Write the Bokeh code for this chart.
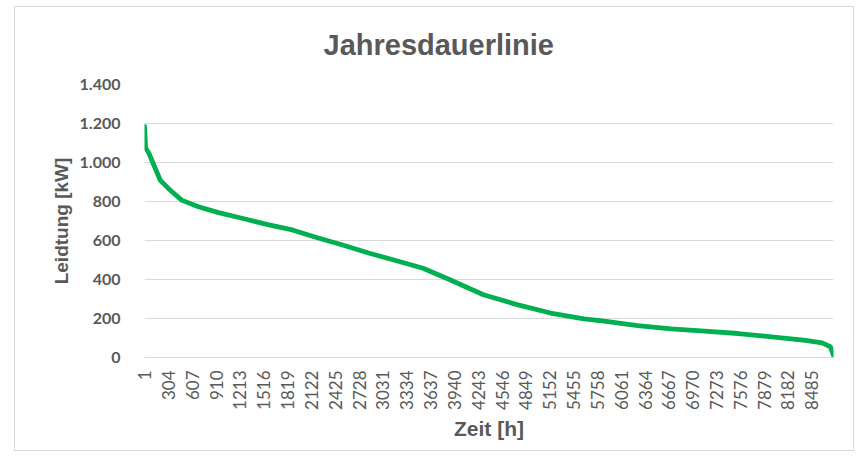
from bokeh.plotting import figure
from bokeh.models import FixedTicker, Range1d
from bokeh.embed import file_html
from bokeh.resources import INLINE

# Data (hour of year, load in kW)
hours = [1, 15, 60, 111, 200, 303, 473, 686, 942, 1240, 1582, 1880, 2178, 2519,
         2860, 3159, 3542, 3884, 4309, 4736, 5162, 5588, 5844, 6270, 6697, 7123,
         7549, 7976, 8402, 8615, 8721, 8760]
load_kw = [1185, 1075, 1045, 995, 910, 867, 807, 773, 743, 714, 680, 654, 617, 577,
           535, 501, 458, 399, 322, 271, 228, 198, 186, 164, 147, 135,
           123, 106, 88, 75, 55, 10]

x_tick_hours = [1, 304, 607, 910, 1213, 1516, 1819, 2122, 2425, 2728, 3031, 3334,
                3637, 3940, 4243, 4546, 4849, 5152, 5455, 5758, 6061, 6364, 6667,
                6970, 7273, 7576, 7879, 8182, 8485]
y_ticks = [0, 200, 400, 600, 800, 1000, 1200, 1400]
y_tick_labels = ["0", "200", "400", "600", "800", "1.000", "1.200", "1.400"]

title_text = "Jahresdauerlinie"
x_label = "Zeit [h]"
y_label = "Leidtung [kW]"

grey = "#595959"

p = figure(width=840, height=445, output_backend="svg", toolbar_location=None,
           x_range=Range1d(0.5, 8760.5), y_range=Range1d(0, 1400),
           title=title_text)
p.margin = (6, 0, 0, 14)
p.styles = {"border": "1px solid #d9d9d9", "box-sizing": "border-box"}

p.min_border_left = 129
p.min_border_right = 22
p.min_border_top = 77
p.min_border_bottom = 95
p.outline_line_color = None
p.background_fill_color = "white"
p.border_fill_color = "white"

p.title.align = "left"
p.title.offset = 179
p.title.vertical_align = "top"
p.title.text_font = "Liberation Sans"
p.title.text_font_size = "29px"
p.title.text_font_style = "bold"
p.title.text_color = grey
p.title.standoff = 43

p.line(hours, load_kw, line_color="#00b050", line_width=4.8, line_join="round", line_cap="round")

# y axis
p.yaxis.ticker = FixedTicker(ticks=y_ticks)
p.yaxis.major_label_overrides = {t: l for t, l in zip(y_ticks, y_tick_labels)}
p.yaxis.major_label_text_font = "Lato"
p.yaxis.major_label_text_font_style = "bold"
p.yaxis.major_label_text_font_size = "16px"
p.yaxis.major_label_text_color = grey
p.yaxis.major_label_standoff = 18
p.yaxis.axis_line_color = None
p.yaxis.major_tick_line_color = None
p.yaxis.minor_tick_line_color = None
p.yaxis.axis_label = y_label
p.yaxis.axis_label_text_font = "Liberation Sans"
p.yaxis.axis_label_text_font_style = "bold"
p.yaxis.axis_label_text_font_size = "19px"
p.yaxis.axis_label_text_color = grey
p.yaxis.axis_label_standoff = 5

# x axis
p.xaxis.ticker = FixedTicker(ticks=x_tick_hours)
p.xaxis.major_label_orientation = 1.5708
p.xaxis.major_label_text_font = "Lato"
p.xaxis.major_label_text_font_size = "17px"
p.xaxis.major_label_text_color = grey
p.xaxis.major_label_standoff = 7
p.xaxis.axis_line_color = "#d9d9d9"
p.xaxis.major_tick_line_color = None
p.xaxis.minor_tick_line_color = None
p.xaxis.axis_label = x_label
p.xaxis.axis_label_text_font = "Liberation Sans"
p.xaxis.axis_label_text_font_style = "bold"
p.xaxis.axis_label_text_font_size = "21px"
p.xaxis.axis_label_text_color = grey
p.xaxis.axis_label_standoff = 4

p.xgrid.grid_line_color = None
p.ygrid.ticker = FixedTicker(ticks=y_ticks)
p.ygrid.grid_line_color = "#d9d9d9"
p.ygrid.grid_line_width = 1

open("out.html", "w").write(file_html(p, INLINE))
